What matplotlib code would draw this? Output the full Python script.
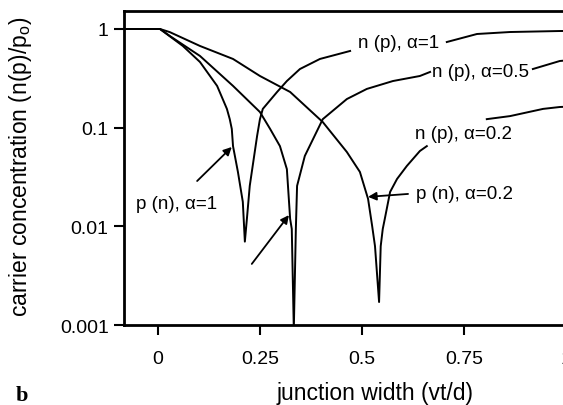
import numpy as np
import matplotlib
matplotlib.use("Agg")
import matplotlib.pyplot as plt
from matplotlib.ticker import FixedLocator, NullLocator

plt.rcParams['font.family'] = ['Liberation Sans', 'DejaVu Sans']

# curvas (x = vt/d, y = n(p)/po); nan = hueco bajo la etiqueta
x_a1 = [-0.10, 0.005, 0.061, 0.103, 0.145, 0.169, 0.176, 0.181, 0.184, 0.196, 0.208, 0.213,
        0.218, 0.225, 0.243, 0.250, 0.257, 0.292, 0.316, 0.348, 0.397, 0.471,
        np.nan, 0.708, 0.782, 0.863, 0.985, 1.0]
y_a1 = [1.0, 1.0, 0.673, 0.463, 0.265, 0.155, 0.122, 0.097, 0.065, 0.0356, 0.0177, 0.0070,
        0.0119, 0.0257, 0.0824, 0.122, 0.155, 0.230, 0.297, 0.393, 0.497, 0.599,
        np.nan, 0.738, 0.89, 0.932, 0.954, 0.955]

x_a05 = [-0.10, 0.005, 0.029, 0.103, 0.184, 0.250, 0.275, 0.299, 0.316, 0.324,
         0.328, 0.333, 0.338, 0.341, 0.360, 0.404, 0.463, 0.512, 0.576, 0.642,
         0.667, np.nan, 0.919, 0.985, 1.0]
y_a05 = [1.0, 1.0, 0.85, 0.533, 0.265, 0.144, 0.097, 0.065, 0.038, 0.0119,
         0.0094, 0.0009, 0.0094, 0.0257, 0.0517, 0.122, 0.195, 0.247, 0.297, 0.334,
         0.367, np.nan, 0.393, 0.474, 0.48]

x_a02 = [-0.10, 0.005, 0.029, 0.103, 0.184, 0.250, 0.324, 0.404, 0.463, 0.495,
         0.515, 0.525, 0.532, 0.542, 0.546, 0.551, 0.556, 0.569, 0.586, 0.610,
         0.642, 0.659, np.nan, 0.806, 0.863, 0.944, 0.985, 1.0]
y_a02 = [1.0, 1.0, 0.93, 0.673, 0.497, 0.334, 0.230, 0.114, 0.0567, 0.0356,
         0.019, 0.0101, 0.0063, 0.00171, 0.0063, 0.0094, 0.0119, 0.0223, 0.0302, 0.0409,
         0.058, 0.065, np.nan, 0.122, 0.131, 0.155, 0.162, 0.163]

xticks = [0, 0.25, 0.5, 0.75, 1]
xticklabels = ['0', '0.25', '0.5', '0.75', '1']
yticks = [0.001, 0.01, 0.1, 1]
yticklabels = ['0.001', '0.01', '0.1', '1']

fig = plt.figure(figsize=(5.63, 4.06), dpi=100)
ax = fig.add_axes([0.2202, 0.197, 0.785, 0.774])

for xs, ys in [(x_a1, y_a1), (x_a05, y_a05), (x_a02, y_a02)]:
    ax.plot(xs, ys, color='black', lw=1.4)

ax.set_yscale('log')
ax.set_xlim(-0.0833, 1.0)
ax.set_ylim(0.001, 1.53)

ax.xaxis.set_major_locator(FixedLocator(xticks))
ax.set_xticklabels(xticklabels)
ax.yaxis.set_major_locator(FixedLocator(yticks))
ax.yaxis.set_minor_locator(NullLocator())
ax.set_yticklabels(yticklabels)
ax.tick_params(axis='both', direction='out', length=7, width=1.5, labelsize=14)
ax.tick_params(axis='x', pad=11)
ax.tick_params(axis='y', pad=4)

for s in ['left', 'bottom', 'top']:
    ax.spines[s].set_linewidth(2)
ax.spines['right'].set_visible(False)

ax.set_xlabel('junction width (vt/d)', fontsize=16.5)
ax.set_ylabel(r'carrier concentration (n(p)/p$_\mathregular{o}$)', fontsize=16.5)
ax.xaxis.set_label_coords(0.568, -0.178)
ax.yaxis.set_label_coords(-0.204, 0.507)

# etiquetas
ax.text(0.49, 0.738, 'n (p), α=1', fontsize=13.5, va='center')
ax.text(0.672, 0.367, 'n (p), α=0.5', fontsize=13.5, va='center')
ax.text(0.630, 0.0883, 'n (p), α=0.2', fontsize=13.5, va='center')
ax.text(0.632, 0.0213, 'p (n), α=0.2', fontsize=13.5, va='center')
ax.text(-0.054, 0.01686, 'p (n), α=1', fontsize=13.5, va='center')

flecha = dict(arrowstyle='-|>', color='black', lw=1.3, mutation_scale=12,
              shrinkA=0, shrinkB=0)
ax.annotate('', xy=(0.181, 0.0637), xytext=(0.096, 0.0288), arrowprops=flecha)
ax.annotate('', xy=(0.321, 0.0130), xytext=(0.230, 0.00416), arrowprops=flecha)
ax.annotate('', xy=(0.515, 0.0199), xytext=(0.613, 0.0213), arrowprops=flecha)

fig.text(0.027, 0.012, 'b', fontsize=16, fontweight='bold',
         family='Liberation Serif', va='baseline')

fig.savefig('out.png', dpi=100)
